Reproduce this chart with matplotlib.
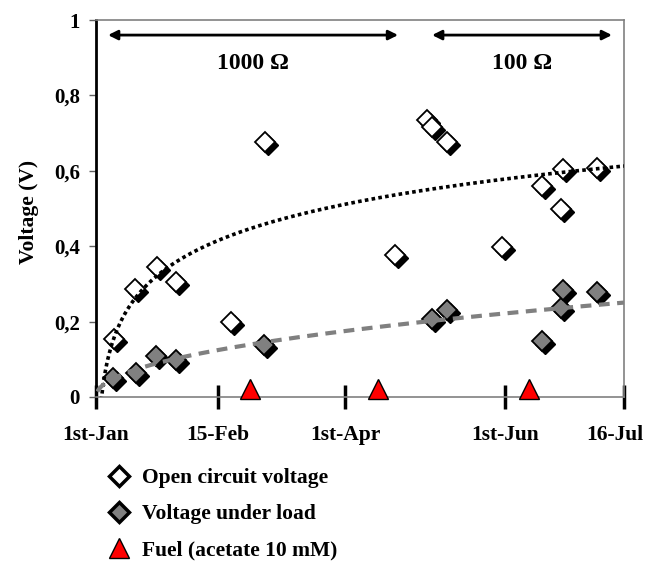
import numpy as np
import matplotlib
matplotlib.use('Agg')
import matplotlib.pyplot as plt
from matplotlib.lines import Line2D
from matplotlib import transforms

plt.rcParams['font.family'] = ['Liberation Serif', 'DejaVu Serif']
plt.rcParams['font.weight'] = 'bold'

# dagen sinds 1 januari
ocv_day = [6.7, 14.6, 22.6, 29.8, 50.3, 63.1, 111.6, 123.4, 125.2, 130.8, 151.4, 166.3, 174.1, 173.4, 187.0]
ocv_volt = [0.153, 0.286, 0.346, 0.306, 0.20, 0.677, 0.377, 0.735, 0.716, 0.677, 0.399, 0.56, 0.604, 0.50, 0.607]

load_day = [6.5, 14.9, 22.4, 29.8, 62.7, 125.2, 130.8, 166.5, 173.4, 174.3, 187.0]
load_volt = [0.05, 0.063, 0.109, 0.098, 0.138, 0.206, 0.231, 0.149, 0.237, 0.284, 0.278]

fuel_day = [57.5, 105.3, 161.7]
fuel_level = [0.02, 0.02, 0.02]

tick_days = [0, 45.5, 93, 152.5, 197]
tick_labels = ['1st-Jan', '15-Feb', '1st-Apr', '1st-Jun', '16-Jul']

# weerstand periodes
periods = [(4.5, 112.7), (125.4, 192.5)]
period_labels = ['1000 Ω', '100 Ω']

fig = plt.figure(figsize=(6.48, 5.61), dpi=100)
ax = fig.add_axes([96 / 648, 164 / 561, 528 / 648, 377 / 561])

# schaduw van de markers
shadow = transforms.offset_copy(ax.transData, fig=fig, x=3, y=-3, units='dots')

ax.plot(ocv_day, ocv_volt, 'D', ms=10, color='black', mec='black', transform=shadow, zorder=2)
ax.plot(ocv_day, ocv_volt, 'D', ms=10, mfc='white', mec='black', mew=1.3, zorder=3)
ax.plot(load_day, load_volt, 'D', ms=10, color='black', mec='black', transform=shadow, zorder=2)
ax.plot(load_day, load_volt, 'D', ms=10, mfc='#808080', mec='black', mew=1.3, zorder=3)

# trendlijnen: logaritmisch (open klem) en macht (onder belasting)
xx = np.linspace(1, 197, 400)
a1, b1 = np.polyfit(np.log(ocv_day), ocv_volt, 1)
p2, c2 = np.polyfit(np.log(load_day), np.log(load_volt), 1)
ax.plot(xx, a1 * np.log(xx) + b1, color='black', lw=2.6, linestyle=(0, (1, 0.9)),
        dash_capstyle='butt', zorder=4)
xx2 = np.linspace(0.5, 197, 400)
ax.plot(xx2, np.exp(c2) * xx2 ** p2, color='#808080', lw=3, linestyle=(0, (2.6, 1.8)),
        dash_capstyle='butt', zorder=4)

ax.plot(fuel_day, fuel_level, '^', ms=15, mfc='red', mec='black', mew=1, clip_on=False, zorder=6)

for (x0, x1), lab in zip(periods, period_labels):
    ax.annotate('', xy=(x0, 0.96), xytext=(x1, 0.96),
                arrowprops=dict(arrowstyle='<|-|>', color='black', lw=2,
                                mutation_scale=14, shrinkA=0, shrinkB=0))
    ax.text((x0 + x1) / 2, 0.885, lab, ha='center', va='center', fontsize=17, fontweight='bold')

ax.set_xlim(0, 197)
ax.set_ylim(0, 1)
ax.set_xticks(tick_days)
ax.set_xticklabels(tick_labels, fontsize=15.5, fontweight='bold')
ax.set_yticks([0, 0.2, 0.4, 0.6, 0.8, 1])
ax.set_yticklabels(['0', '0,2', '0,4', '0,6', '0,8', '1'], fontsize=15, fontweight='bold')
ax.tick_params(axis='x', direction='inout', length=17, width=2.5, color='black', pad=12)
ax.tick_params(axis='y', direction='out', length=5, width=1, color='#606060', pad=6.5)

# laatste label past niet, iets naar links
last = ax.get_xticklabels()[-1]
last.set_transform(last.get_transform() + transforms.ScaledTranslation(-9 / 100, 0, fig.dpi_scale_trans))

ax.set_ylabel('Voltage (V)', fontsize=15.5, fontweight='bold')
ax.yaxis.set_label_coords(-0.108, 0.49)

for s in ['top', 'right', 'bottom']:
    ax.spines[s].set_color('#808080')
    ax.spines[s].set_linewidth(1.2)
ax.spines['left'].set_color('black')
ax.spines['left'].set_linewidth(2)

handles = [
    Line2D([], [], marker='D', ls='none', ms=10, mfc='white', mec='black', mew=2.5),
    Line2D([], [], marker='D', ls='none', ms=10, mfc='#808080', mec='black', mew=2.5),
    Line2D([], [], marker='^', ls='none', ms=15, mfc='red', mec='black', mew=1),
]
labels = ['Open circuit voltage', 'Voltage under load', 'Fuel (acetate 10 mM)']
fig.legend(handles, labels, loc='upper left', bbox_to_anchor=(105 / 648, 1 - 468 / 561),
           frameon=False, handletextpad=0.4, labelspacing=0.74, handlelength=1.3,
           borderaxespad=0, borderpad=0, prop=dict(size=15.5, weight='bold'))

plt.savefig('out.png', dpi=100)
